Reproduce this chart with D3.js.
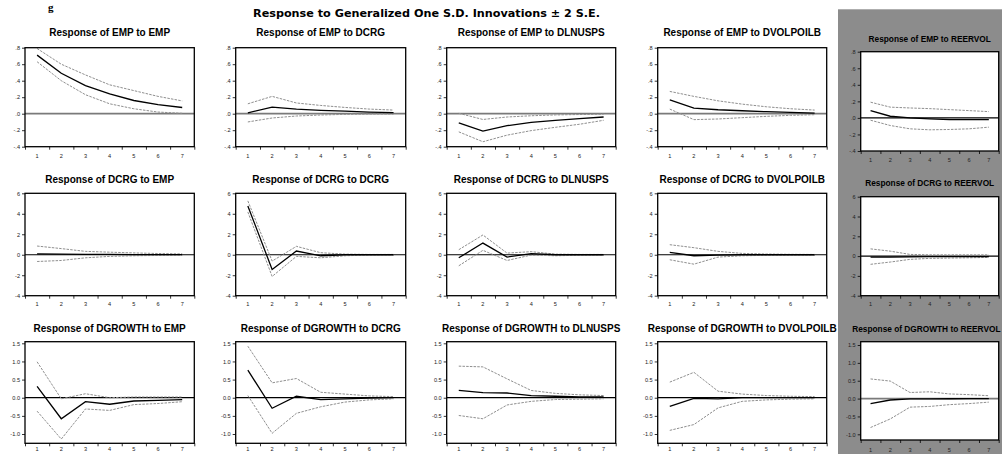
<!DOCTYPE html>
<html><head><meta charset="utf-8">
<script src="https://cdn.jsdelivr.net/npm/d3@7"></script>
<style>body{margin:0;background:#fff;} svg{display:block;}</style>
</head><body>
<svg id="chart" width="1002" height="454"></svg>
<script>
// ---------------- data ----------------
const periods = [1, 2, 3, 4, 5, 6, 7];
const xTickLabels = ["1", "2", "3", "4", "5", "6", "7"];
const shockVars = ["EMP", "DCRG", "DLNUSPS", "DVOLPOILB", "REERVOL"];
const responseVars = ["EMP", "DCRG", "DGROWTH"];
const mainTitle = "Response to Generalized One S.D. Innovations \u00B1 2 S.E.";
const yTickValues = [[0.8, 0.6, 0.4, 0.2, 0, -0.2, -0.4], [6, 4, 2, 0, -2, -4], [1.5, 1.0, 0.5, 0, -0.5, -1.0]];
const yTickLabels = [[".8", ".6", ".4", ".2", ".0", "-.2", "-.4"], ["6", "4", "2", "0", "-2", "-4"], ["1.5", "1.0", "0.5", "0.0", "-0.5", "-1.0"]];

// Response of EMP to each shock (one array per shock)
const irfEMP = [
  [0.71, 0.49, 0.34, 0.24, 0.16, 0.11, 0.075],
  [0.01, 0.08, 0.055, 0.04, 0.03, 0.02, 0.012],
  [-0.11, -0.21, -0.145, -0.105, -0.08, -0.06, -0.04],
  [0.168, 0.068, 0.048, 0.036, 0.024, 0.016, 0.008],
  [0.088, 0.02, 0.0, -0.012, -0.02, -0.02, -0.02]
];
const upperEMP = [
  [0.79, 0.60, 0.47, 0.35, 0.28, 0.21, 0.155],
  [0.12, 0.21, 0.13, 0.10, 0.076, 0.056, 0.044],
  [0.005, -0.07, -0.04, -0.025, -0.015, -0.01, -0.005],
  [0.27, 0.21, 0.156, 0.116, 0.084, 0.06, 0.044],
  [0.19, 0.13, 0.12, 0.112, 0.10, 0.088, 0.076]
];
const lowerEMP = [
  [0.63, 0.40, 0.23, 0.12, 0.06, 0.02, 0.005],
  [-0.10, -0.052, -0.028, -0.016, -0.008, -0.004, -0.004],
  [-0.22, -0.34, -0.26, -0.205, -0.165, -0.128, -0.08],
  [0.056, -0.072, -0.064, -0.048, -0.032, -0.02, -0.012],
  [-0.028, -0.092, -0.132, -0.144, -0.14, -0.132, -0.112]
];

// Response of DCRG
const irfDCRG = [
  [0.08, 0.06, 0.04, 0.03, 0.02, 0.01, 0.01],
  [4.77, -1.44, 0.36, -0.1, 0.0, 0.0, 0.0],
  [-0.3, 1.14, -0.23, 0.1, 0.0, 0.0, 0.0],
  [0.23, -0.1, -0.03, 0.0, 0.0, 0.0, 0.0],
  [-0.1, -0.1, -0.08, -0.06, -0.05, -0.05, -0.05]
];
const upperDCRG = [
  [0.85, 0.6, 0.33, 0.25, 0.18, 0.12, 0.08],
  [5.26, -0.62, 0.82, 0.2, 0.06, 0.03, 0.03],
  [0.49, 1.93, 0.16, 0.3, 0.06, 0.03, 0.03],
  [0.98, 0.69, 0.33, 0.13, 0.07, 0.04, 0.03],
  [0.73, 0.5, 0.17, 0.13, 0.13, 0.13, 0.13]
];
const lowerDCRG = [
  [-0.66, -0.56, -0.3, -0.16, -0.1, -0.07, -0.04],
  [4.18, -2.12, -0.16, -0.3, -0.1, -0.03, -0.01],
  [-1.08, 0.43, -0.56, -0.03, -0.1, -0.05, -0.03],
  [-0.49, -0.92, -0.23, -0.1, -0.06, -0.04, -0.03],
  [-0.83, -0.6, -0.33, -0.23, -0.2, -0.17, -0.13]
];

// Response of DGROWTH
const irfDGROWTH = [
  [0.31, -0.58, -0.11, -0.18, -0.09, -0.075, -0.05],
  [0.76, -0.29, 0.04, -0.05, -0.03, -0.01, 0.0],
  [0.2, 0.14, 0.13, 0.06, 0.04, 0.02, 0.02],
  [-0.24, -0.02, -0.03, 0.0, 0.0, 0.0, 0.0],
  [-0.14, -0.04, -0.01, -0.01, -0.005, 0.0, 0.0]
];
const upperDGROWTH = [
  [0.99, -0.03, 0.11, 0.0, 0.02, 0.02, 0.02],
  [1.42, 0.41, 0.53, 0.15, 0.1, 0.05, 0.03],
  [0.87, 0.85, 0.52, 0.2, 0.12, 0.08, 0.06],
  [0.43, 0.7, 0.18, 0.1, 0.06, 0.04, 0.03],
  [0.55, 0.49, 0.17, 0.19, 0.13, 0.11, 0.08]
];
const lowerDGROWTH = [
  [-0.37, -1.14, -0.31, -0.35, -0.19, -0.16, -0.11],
  [0.06, -0.98, -0.43, -0.25, -0.12, -0.06, -0.03],
  [-0.49, -0.58, -0.2, -0.1, -0.05, -0.04, -0.03],
  [-0.9, -0.74, -0.28, -0.1, -0.06, -0.04, -0.03],
  [-0.81, -0.57, -0.24, -0.22, -0.17, -0.14, -0.1]
];

const irfs = [irfEMP, irfDCRG, irfDGROWTH];
const uppers = [upperEMP, upperDCRG, upperDGROWTH];
const lowers = [lowerEMP, lowerDCRG, lowerDGROWTH];

// ---------------- layout ----------------
const colLeft = [25, 235.7, 446.7, 657.7, 860.7];
const colRight = [194.3, 405.7, 615.7, 826.7, 998.7];
// [main columns, last (grey) column]
const boxTop = [[47.7, 193.3, 341.7], [51.7, 196.7, 341.7]];
const boxBottom = [[146.7, 295.7, 443.3], [151, 295.7, 440]];
const tickTopPx = [[47.7, 193.3, 343.3], [51.7, 196.7, 345]];
const tickBotPx = [[146.7, 295.7, 434], [151, 295.7, 434.3]];
const titleBase = [[35.5, 182.5, 332], [41.5, 185.5, 332]];
const xLabBase = [[157.5, 306, 451], [161.5, 306, 451.5]];

const svg = d3.select("#chart");
svg.append("rect").attr("width", 1002).attr("height", 454).attr("fill", "#fff");

// caption glyph at the top edge
svg.append("text").attr("x", 48).attr("y", 10.5)
  .attr("font-family", "Liberation Serif").attr("font-weight", "bold")
  .attr("font-size", 11).attr("fill", "#000").text("g");

const mt = svg.append("text").attr("x", 426.5).attr("y", 16.5)
  .attr("text-anchor", "middle").attr("font-family", "DejaVu Sans")
  .attr("font-weight", "bold").attr("font-size", 10.8).attr("fill", "#000")
  .text(mainTitle);
mt.attr("textLength", 347).attr("lengthAdjust", "spacingAndGlyphs");

function drawPanel(r, c) {
  const g5 = c === 4 ? 1 : 0;
  const x = d3.scaleLinear().domain([0.5, 7.5]).range([colLeft[c], colRight[c]]);
  const yt = yTickValues[r];
  const y = d3.scaleLinear().domain([yt[yt.length - 1], yt[0]])
    .range([tickBotPx[g5][r], tickTopPx[g5][r]]);
  const top = boxTop[g5][r], bot = boxBottom[g5][r];
  const g = svg.append("g");

  g.append("rect").attr("x", colLeft[c]).attr("y", top)
    .attr("width", colRight[c] - colLeft[c]).attr("height", bot - top)
    .attr("fill", "#fff");

  // title
  const t = g.append("text").attr("y", titleBase[g5][r])
    .attr("font-family", "Liberation Sans")
    .attr("font-weight", "bold").attr("font-size", g5 ? 8.3 : 10).attr("fill", "#000")
    .text("Response of " + responseVars[r] + " to " + shockVars[c]);
  const cx = (colLeft[c] + colRight[c]) / 2;
  const w = t.node().getComputedTextLength();
  if (cx + w / 2 > 1000.5) {
    t.attr("x", 1000.5).attr("text-anchor", "end");
  } else {
    t.attr("x", cx).attr("text-anchor", "middle");
  }

  // y axis
  const ya = d3.axisLeft(y).tickValues(yt).tickSize(3).tickPadding(2)
    .tickFormat((d, i) => yTickLabels[r][i]);
  const yg = g.append("g").attr("transform", `translate(${colLeft[c]},0)`).call(ya);
  yg.select(".domain").remove();
  yg.selectAll("line").attr("stroke", "#000").attr("stroke-width", 0.8);
  yg.selectAll("text").attr("font-family", "Liberation Sans").attr("font-size", 5.6).attr("fill", "#222");

  // x axis: ticks at half-periods, labels at periods
  const xa = d3.axisBottom(x).tickValues([0.5, 1.5, 2.5, 3.5, 4.5, 5.5, 6.5, 7.5]).tickSize(3).tickFormat("");
  const xg = g.append("g").attr("transform", `translate(0,${bot})`).call(xa);
  xg.select(".domain").remove();
  xg.selectAll("line").attr("stroke", "#000").attr("stroke-width", 0.8);
  g.selectAll(".xl").data(periods).enter().append("text")
    .attr("x", d => x(d)).attr("y", xLabBase[g5][r]).attr("text-anchor", "middle")
    .attr("font-family", "Liberation Sans").attr("font-size", 5.6).attr("fill", "#222")
    .text((d, i) => xTickLabels[i]);

  // zero line
  const zeroGrey = (r === 0 && c < 4) || (r === 2 && c === 4);
  g.append("line").attr("x1", colLeft[c]).attr("x2", colRight[c])
    .attr("y1", y(0)).attr("y2", y(0))
    .attr("stroke", zeroGrey ? "#7a7a7a" : "#000").attr("stroke-width", zeroGrey ? 1.8 : 1.2);

  const line = d3.line().x((d, i) => x(periods[i])).y(d => y(d));
  [uppers[r][c], lowers[r][c]].forEach(s => {
    g.append("path").attr("d", line(s)).attr("fill", "none")
      .attr("stroke", "#8f8f8f").attr("stroke-width", 1).attr("stroke-dasharray", "2.5,1.2");
  });
  g.append("path").attr("d", line(irfs[r][c])).attr("fill", "none")
    .attr("stroke", "#000").attr("stroke-width", 1.3);

  // box
  g.append("rect").attr("x", colLeft[c]).attr("y", top)
    .attr("width", colRight[c] - colLeft[c]).attr("height", bot - top)
    .attr("fill", "none").attr("stroke", "#000").attr("stroke-width", 1.3);
}

for (let r = 0; r < 3; r++) for (let c = 0; c < 4; c++) drawPanel(r, c);
// grey background of the last column
svg.append("rect").attr("x", 838).attr("y", 9.3).attr("width", 164).attr("height", 454 - 9.3).attr("fill", "#8c8c8c");
for (let r = 0; r < 3; r++) drawPanel(r, 4);
</script>
</body></html>
